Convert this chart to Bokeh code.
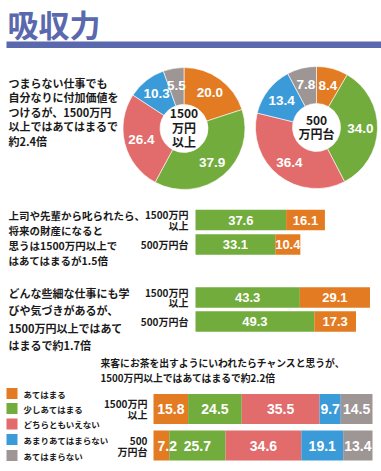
import numpy as np
from bokeh.plotting import figure
from bokeh.models import Range1d, ColumnDataSource
from bokeh.core.properties import value
from bokeh.embed import file_html
from bokeh.resources import INLINE

# ---------------- data ----------------
categories = ["あてはまる", "少しあてはまる", "どちらともいえない", "あまりあてはまらない", "あてはまらない"]
colors = ["#e37b22", "#72ac3d", "#e26b6b", "#3b9bd9", "#9e9595"]

donut_hi = [20.0, 37.9, 26.4, 10.3, 5.5]   # 1500万円以上
donut_lo = [8.4, 34.0, 36.4, 13.4, 7.8]    # 500万円台

# two-segment bars: [少しあてはまる, あてはまる]
boss_hi = [37.6, 16.1]
boss_lo = [33.1, 10.4]
learn_hi = [43.3, 29.1]
learn_lo = [49.3, 17.3]

tea_hi = [15.8, 24.5, 35.5, 9.7, 14.5]
tea_lo = [7.2, 25.7, 34.6, 19.1, 13.4]

title = "吸収力"
q1_lines = ["つまらない仕事でも", "自分なりに付加価値を", "つけるが、1500万円", "以上ではあてはまるで", "約2.4倍"]
q2_lines = ["上司や先輩から叱られたら、", "将来の財産になると", "思うは1500万円以上で", "はあてはまるが1.5倍"]
q3_lines = ["どんな些細な仕事にも学", "びや気づきがあるが、", "1500万円以上ではあて", "はまるで約1.7倍"]
q4_lines = ["来客にお茶を出すようにいわれたらチャンスと思うが、", "1500万円以上ではあてはまるで約2.2倍"]
grp_hi = ["1500万円", "以上"]
grp_lo_short = ["500万円台"]
grp_lo = ["500", "万円台"]

# ---------------- figure (1 unit = 1 px, y measured from page top) ----------------
W, H = 381, 471
def Y(py):
    return H - py

p = figure(width=W, height=H, x_range=Range1d(0, W), y_range=Range1d(0, H),
           output_backend="svg", toolbar_location=None,
           x_axis_location=None, y_axis_location=None, min_border=0)
p.grid.visible = False
p.outline_line_color = None
p.background_fill_color = "white"
p.border_fill_color = "white"

JP = value("Noto Sans CJK JP")
NUM = value("Liberation Sans")
INK = "#1a1a1a"
two_colors = [colors[1], colors[0]]

def lines(xs, ys, texts, size, align="left", color=INK, font=JP, style="bold", rng="default"):
    p.text(x=xs, y=ys, text=texts, text_font=font, text_font_size=size,
           text_font_style=style, text_color=color, text_align=align,
           text_baseline="middle", x_range_name=rng)

# title + rule
lines([7], [Y(22.5)], [title], "31px", color="#5a68ad")
p.quad(left=[6], right=[381], bottom=[Y(47.5)], top=[Y(41)], fill_color="#5a68ad", line_color=None)

# ---------------- donuts ----------------
def donut(vals, cx, cy, center_text, center_ys):
    v = np.array(vals, dtype=float)
    cum = np.concatenate([[0], np.cumsum(v)]) / v.sum()
    start = np.pi / 2 - cum[:-1] * 2 * np.pi
    end = np.pi / 2 - cum[1:] * 2 * np.pi
    src = ColumnDataSource(dict(start=start, end=end, color=colors))
    p.annular_wedge(x=cx, y=Y(cy), inner_radius=24, outer_radius=61,
                    start_angle="start", end_angle="end", direction="clock",
                    fill_color="color", line_color="white", line_width=0.6, source=src)
    mid = (start + end) / 2
    lines(list(cx + 44 * np.cos(mid)), list(Y(cy) + 44 * np.sin(mid)),
          [f"{x:.1f}" for x in vals], "13.5px", align="center", color="white", font=NUM)
    lines([cx] * len(center_text), [Y(y) for y in center_ys], center_text, "12px", align="center")

donut(donut_hi, 183.5, 128, ["1500", "万円", "以上"], [113, 127, 141])
donut(donut_lo, 316, 127, ["500", "万円台"], [120, 133])

lines([8] * 5, [Y(y) for y in [82, 96.5, 111, 125.5, 140]], q1_lines, "11px")

# ---------------- two-segment bars ----------------
k2, o2 = 2.41, 195
p.extra_x_ranges = {
    "two": Range1d((0 - o2) / k2, (W - o2) / k2),
    "tea": Range1d((0 - 153) / 2.19, (W - 153) / 2.19),
}

def two_bar(vals, cy, h=20.5):
    left = [0, vals[0]]
    right = [vals[0], vals[0] + vals[1]]
    p.hbar(y=Y(cy), left=left, right=right, height=h, fill_color=two_colors,
           line_color=None, x_range_name="two")
    lines([(a + b) / 2 for a, b in zip(left, right)], [Y(cy)] * 2,
          [f"{x:.1f}" for x in vals], "13px", align="center", color="white",
          font=NUM, rng="two")

lines([8] * 4, [Y(y) for y in [215, 230, 245, 260]], q2_lines, "10.5px")
lines([188, 188], [Y(214), Y(225)], grp_hi, "10px", align="right")
lines([188], [Y(244)], grp_lo_short, "10px", align="right")
two_bar(boss_hi, 219.5)
two_bar(boss_lo, 244)

lines([8] * 4, [Y(y) for y in [292, 309.5, 327, 344.5]], q3_lines, "11px")
lines([188, 188], [Y(292), Y(302)], grp_hi, "10px", align="right")
lines([188], [Y(321)], grp_lo_short, "10px", align="right")
two_bar(learn_hi, 297)
two_bar(learn_lo, 321)

# ---------------- stacked 5-segment bars ----------------
lines([100, 100], [Y(362), Y(377)], q4_lines, "9.8px")

leg_ys = [393, 408, 423.5, 439, 455]
p.rect(x=[11.5] * 5, y=[Y(y) for y in leg_ys], width=11, height=11,
       fill_color=colors, line_color=None)
lines([23] * 5, [Y(y) for y in leg_ys], categories, "8.5px")

def tea_bar(vals, cy, h=30):
    v = np.array(vals)
    cum = np.concatenate([[0], np.cumsum(v)])
    p.hbar(y=Y(cy), left=list(cum[:-1]), right=list(cum[1:]), height=h,
           fill_color=colors, line_color=None, x_range_name="tea")
    mids = (cum[:-1] + cum[1:]) / 2
    # narrow segments: label starts just inside the segment
    lx = [c0 + 6.3 if val < 8 else m for c0, m, val in zip(cum[:-1], mids, v)]
    lines(lx, [Y(cy)] * 5, [f"{x:.1f}" for x in vals],
          "14px", align="center", color="white", font=NUM, rng="tea")

lines([147, 147], [Y(403), Y(414)], grp_hi, "10px", align="right")
lines([147, 147], [Y(440), Y(451)], grp_lo, "10px", align="right")
tea_bar(tea_hi, 408.5)
tea_bar(tea_lo, 445)

open("out.html", "w").write(file_html(p, INLINE))
